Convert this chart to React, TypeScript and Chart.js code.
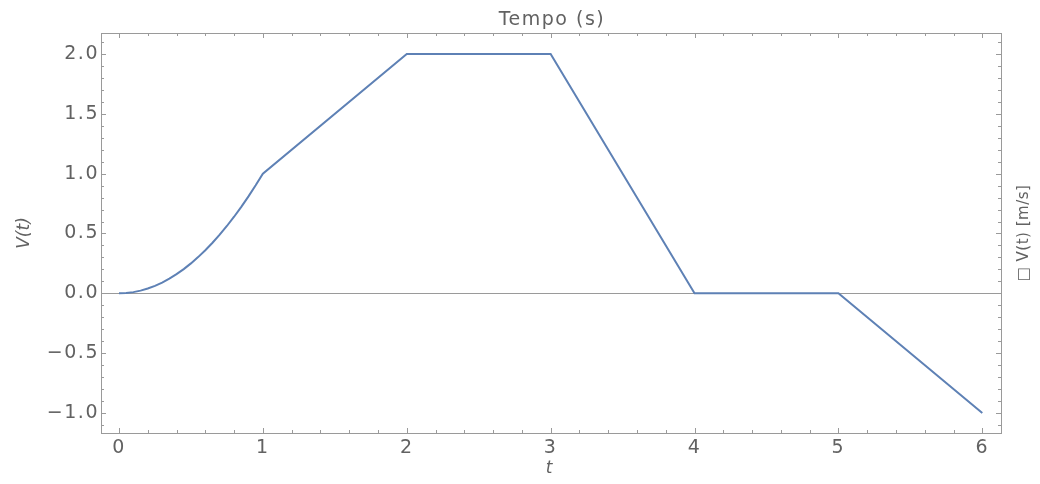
import { useEffect, useRef } from "react";
import { Chart, registerables } from "chart.js";

Chart.register(...registerables);

// ---- data ----
const tValues = [0, 0.05, 0.1, 0.15, 0.2, 0.25, 0.3, 0.35, 0.4, 0.45, 0.5, 0.55, 0.6, 0.65, 0.7, 0.75, 0.8, 0.85, 0.9, 0.95, 1, 2, 3, 4, 5, 6];
const vValues = [0, 0.0025, 0.01, 0.0225, 0.04, 0.0625, 0.09, 0.1225, 0.16, 0.2025, 0.25, 0.3025, 0.36, 0.4225, 0.49, 0.5625, 0.64, 0.7225, 0.81, 0.9025, 1, 2, 2, 0, 0, -1];
const xTickValues = [0, 1, 2, 3, 4, 5, 6];
const yTickValues = [-1, -0.5, 0, 0.5, 1, 1.5, 2];
const xMinorStep = 0.2;
const yMinorStep = 0.1;
const topTitle = "Tempo (s)";
const leftTitle = "V(t)";
const bottomTitle = "t";
const rightTitle = "\u25A1 V(t) [m/s]";

const FRAME = "#9a9a9a";
const TEXT = "#626262";
const LINE = "#5E81B5";
const FONT = "'DejaVu Sans', sans-serif";

const framePlugin = {
  id: "framePlugin",
  beforeDraw(chart: any) {
    chart.ctx.letterSpacing = "1.5px";
  },
  beforeDatasetsDraw(chart: any) {
    const { ctx, chartArea: a, scales } = chart;
    const y0 = scales.y.getPixelForValue(0);
    ctx.save();
    ctx.strokeStyle = FRAME;
    ctx.lineWidth = 1;
    ctx.beginPath();
    ctx.moveTo(a.left, Math.round(y0) + 0.5);
    ctx.lineTo(a.right, Math.round(y0) + 0.5);
    ctx.stroke();
    ctx.restore();
  },
  afterDatasetsDraw(chart: any) {
    const { ctx, chartArea: a, scales } = chart;
    const xs = scales.x;
    const ys = scales.y;
    ctx.save();
    ctx.strokeStyle = FRAME;
    ctx.lineWidth = 1;
    ctx.strokeRect(Math.round(a.left) + 0.5, Math.round(a.top) + 0.5, Math.round(a.right - a.left), Math.round(a.bottom - a.top));
    const major = 5;
    const minor = 3;
    ctx.beginPath();
    for (let i = Math.ceil(xs.min / xMinorStep); i * xMinorStep <= xs.max + 1e-9; i++) {
      const v = i * xMinorStep;
      const isMajor = Math.abs(v - Math.round(v)) < 1e-9;
      const len = isMajor ? major : minor;
      const px = Math.round(xs.getPixelForValue(v)) + 0.5;
      ctx.moveTo(px, a.bottom);
      ctx.lineTo(px, a.bottom - len);
      ctx.moveTo(px, a.top);
      ctx.lineTo(px, a.top + len);
    }
    for (let i = Math.ceil(ys.min / yMinorStep); i * yMinorStep <= ys.max + 1e-9; i++) {
      const v = i * yMinorStep;
      const isMajor = Math.abs(v * 2 - Math.round(v * 2)) < 1e-9;
      const len = isMajor ? major : minor;
      const py = Math.round(ys.getPixelForValue(v)) + 0.5;
      ctx.moveTo(a.left, py);
      ctx.lineTo(a.left + len, py);
      ctx.moveTo(a.right, py);
      ctx.lineTo(a.right - len, py);
    }
    ctx.stroke();

    const cx = (a.left + a.right) / 2;
    const cy = (a.top + a.bottom) / 2;
    ctx.fillStyle = TEXT;
    ctx.textAlign = "center";
    ctx.textBaseline = "alphabetic";
    ctx.letterSpacing = "1.5px";
    ctx.font = `19px ${FONT}`;
    ctx.fillText(topTitle, cx + 1, 25);

    ctx.letterSpacing = "0px";
    ctx.font = `italic 17px ${FONT}`;
    ctx.textBaseline = "middle";
    ctx.fillText(bottomTitle, cx - 2, 469);

    ctx.save();
    ctx.translate(25, cy);
    ctx.rotate(-Math.PI / 2);
    ctx.fillText(leftTitle, 0, 0);
    ctx.restore();

    ctx.save();
    ctx.translate(1024, cy);
    ctx.rotate(-Math.PI / 2);
    ctx.font = `15px ${FONT}`;
    ctx.letterSpacing = "0.5px";
    ctx.fillText(rightTitle, 0, 0);
    ctx.restore();
    ctx.restore();
  },
};

export default function App() {
  const ref = useRef<HTMLCanvasElement | null>(null);
  useEffect(() => {
    document.body.style.margin = "0";
    const chart = new Chart(ref.current as HTMLCanvasElement, {
      type: "line",
      data: {
        datasets: [
          {
            data: tValues.map((t, i) => ({ x: t, y: vValues[i] })),
            borderColor: LINE,
            borderWidth: 2,
            pointRadius: 0,
            tension: 0,
            fill: false,
          },
        ],
      },
      options: {
        animation: false,
        responsive: true,
        maintainAspectRatio: false,
        layout: { padding: { top: 33, right: 39, left: 0, bottom: 0 } },
        plugins: { legend: { display: false }, tooltip: { enabled: false } },
        scales: {
          x: {
            type: "linear",
            position: "bottom",
            min: -0.125,
            max: 6.13,
            grid: { display: false, drawTicks: false },
            border: { display: false },
            afterFit: (s: any) => {
              s.height = 51;
            },
            afterBuildTicks: (s: any) => {
              s.ticks = xTickValues.map((v) => ({ value: v }));
            },
            ticks: {
              autoSkip: false,
              maxRotation: 0,
              padding: 4,
              color: TEXT,
              font: { family: FONT, size: 19 },
              callback: (v: any) => String(v),
            },
          },
          y: {
            type: "linear",
            position: "left",
            min: -1.167,
            max: 2.175,
            grid: { display: false, drawTicks: false },
            border: { display: false },
            afterFit: (s: any) => {
              s.width = 101;
            },
            afterBuildTicks: (s: any) => {
              s.ticks = yTickValues.map((v) => ({ value: v }));
            },
            ticks: {
              autoSkip: false,
              padding: 2,
              color: TEXT,
              font: { family: FONT, size: 19 },
              callback: (v: any) => {
                const n = Number(v);
                const s = Math.abs(n).toFixed(1);
                return n < 0 ? "\u2212" + s : s;
              },
            },
          },
        },
      },
      plugins: [framePlugin],
    } as any);
    return () => chart.destroy();
  }, []);
  return (
    <div style={{ position: "fixed", left: 0, top: 0, width: 1040, height: 484, background: "#fff" }}>
      <canvas ref={ref} />
    </div>
  );
}
